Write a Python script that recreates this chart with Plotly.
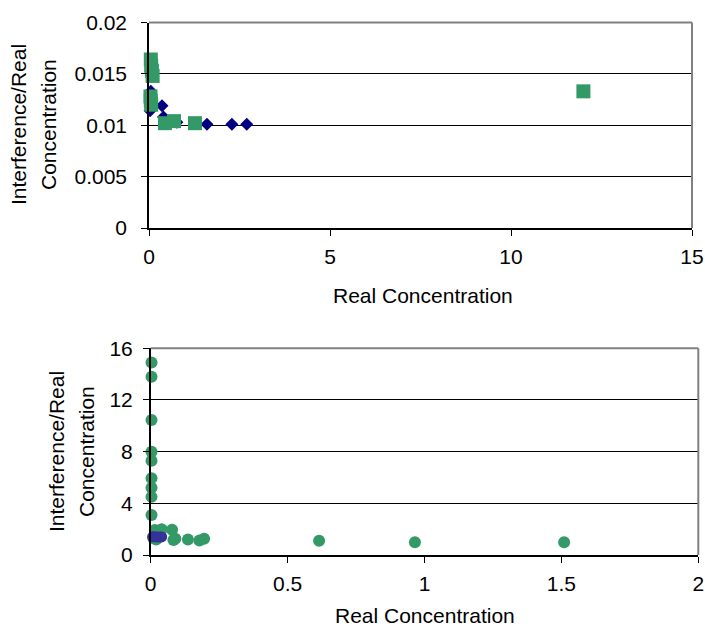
import plotly.graph_objects as go

W, H = 705, 629

# ---- Top chart data ----
top_blue_x = [0.03, 0.04, 0.05, 0.05, 0.36, 0.40, 0.77, 1.60, 2.29, 2.70]
top_blue_y = [0.0114, 0.0118, 0.0125, 0.0133, 0.0119, 0.0108, 0.0103, 0.0101, 0.0101, 0.0101]
top_green_x = [0.05, 0.06, 0.08, 0.10, 0.04, 0.05, 0.06, 0.44, 0.69, 1.27, 12.0]
top_green_y = [0.0164, 0.0158, 0.0153, 0.0148, 0.0128, 0.0124, 0.0120, 0.0102, 0.0104, 0.0102, 0.0133]

# ---- Bottom chart data ----
bot_green_x = [0.003, 0.003, 0.003, 0.003, 0.003, 0.003, 0.003, 0.003, 0.003,
               0.015, 0.040, 0.078, 0.010, 0.020, 0.083, 0.090, 0.136, 0.178, 0.195,
               0.615, 0.965, 1.510]
bot_green_y = [14.9, 13.8, 10.45, 8.0, 7.3, 5.95, 5.2, 4.5, 3.1,
               1.93, 2.0, 1.95, 1.3, 1.2, 1.16, 1.25, 1.2, 1.12, 1.25,
               1.1, 0.98, 0.98]
bot_blue_x = [0.007, 0.015, 0.025, 0.033, 0.040]
bot_blue_y = [1.41, 1.41, 1.40, 1.40, 1.40]

GREEN = "#339966"
NAVY = "#000080"
BLUE = "#333399"
FONT = "Liberation Sans, Arial, sans-serif"
FS = 21

def px_x(p):
    return p / W

def px_y(p):
    return 1 - p / H

fig = go.Figure()
fig.add_trace(go.Scatter(x=top_blue_x, y=top_blue_y, mode="markers", xaxis="x", yaxis="y",
                         marker=dict(symbol="diamond", size=10, color=NAVY), cliponaxis=False))
fig.add_trace(go.Scatter(x=top_green_x, y=top_green_y, mode="markers", xaxis="x", yaxis="y",
                         marker=dict(symbol="square", size=14, color=GREEN), cliponaxis=False))
fig.add_trace(go.Scatter(x=bot_green_x, y=bot_green_y, mode="markers", xaxis="x2", yaxis="y2",
                         marker=dict(symbol="circle", size=12, color=GREEN), cliponaxis=False))
fig.add_trace(go.Scatter(x=bot_blue_x, y=bot_blue_y, mode="markers", xaxis="x2", yaxis="y2",
                         marker=dict(symbol="circle", size=11, color=BLUE), cliponaxis=False))

axis_common = dict(showline=True, linecolor="black", linewidth=1.5, ticks="outside",
                   tickcolor="black", ticklen=6, tickwidth=1, zeroline=False, automargin=False,
                   tickfont=dict(family=FONT, size=FS, color="black"), fixedrange=True)

fig.update_layout(
    template="none",
    width=W, height=H, margin=dict(l=0, r=0, t=0, b=0, pad=0, autoexpand=False),
    paper_bgcolor="white", plot_bgcolor="white", showlegend=False,
    font=dict(family=FONT, size=FS, color="black"),
    xaxis=dict(domain=[px_x(149), px_x(692)], range=[0, 15], dtick=5, anchor="y",
               showgrid=False, ticklabelstandoff=3, **axis_common),
    yaxis=dict(domain=[px_y(228), px_y(22.5)], range=[0, 0.02], dtick=0.005, anchor="x",
               showgrid=True, gridcolor="black", gridwidth=1, ticklabelstandoff=10, **axis_common),
    xaxis2=dict(domain=[px_x(150.7), px_x(698.3)], range=[0, 2], dtick=0.5, anchor="y2",
                showgrid=False, ticklabelstandoff=3, **axis_common),
    yaxis2=dict(domain=[px_y(555), px_y(348.3)], range=[0, 16], dtick=4, anchor="x2",
                showgrid=True, gridcolor="black", gridwidth=1, ticklabelstandoff=6, **axis_common),
)

# gray plot-area border (top and right)
for xr, yr in (("x domain", "y domain"), ("x2 domain", "y2 domain")):
    fig.add_shape(type="line", xref=xr, yref=yr, x0=0, x1=1, y0=1, y1=1,
                  line=dict(color="#808080", width=2), layer="above")
    fig.add_shape(type="line", xref=xr, yref=yr, x0=1, x1=1, y0=0, y1=1,
                  line=dict(color="#808080", width=2), layer="above")

def ann(text, x, y, angle=0):
    fig.add_annotation(text=text, xref="paper", yref="paper", x=px_x(x), y=px_y(y),
                       xanchor="center", yanchor="middle", showarrow=False, textangle=angle,
                       font=dict(family=FONT, size=FS, color="black"))

# axis titles
ann("Real Concentration", 423, 295)
ann("Real Concentration", 425, 615)
ann("Interference/Real", 19, 125, -90)
ann("Concentration", 49, 125, -90)
ann("Interference/Real", 56, 452, -90)
ann("Concentration", 86, 452, -90)

fig.write_html("out.html")
